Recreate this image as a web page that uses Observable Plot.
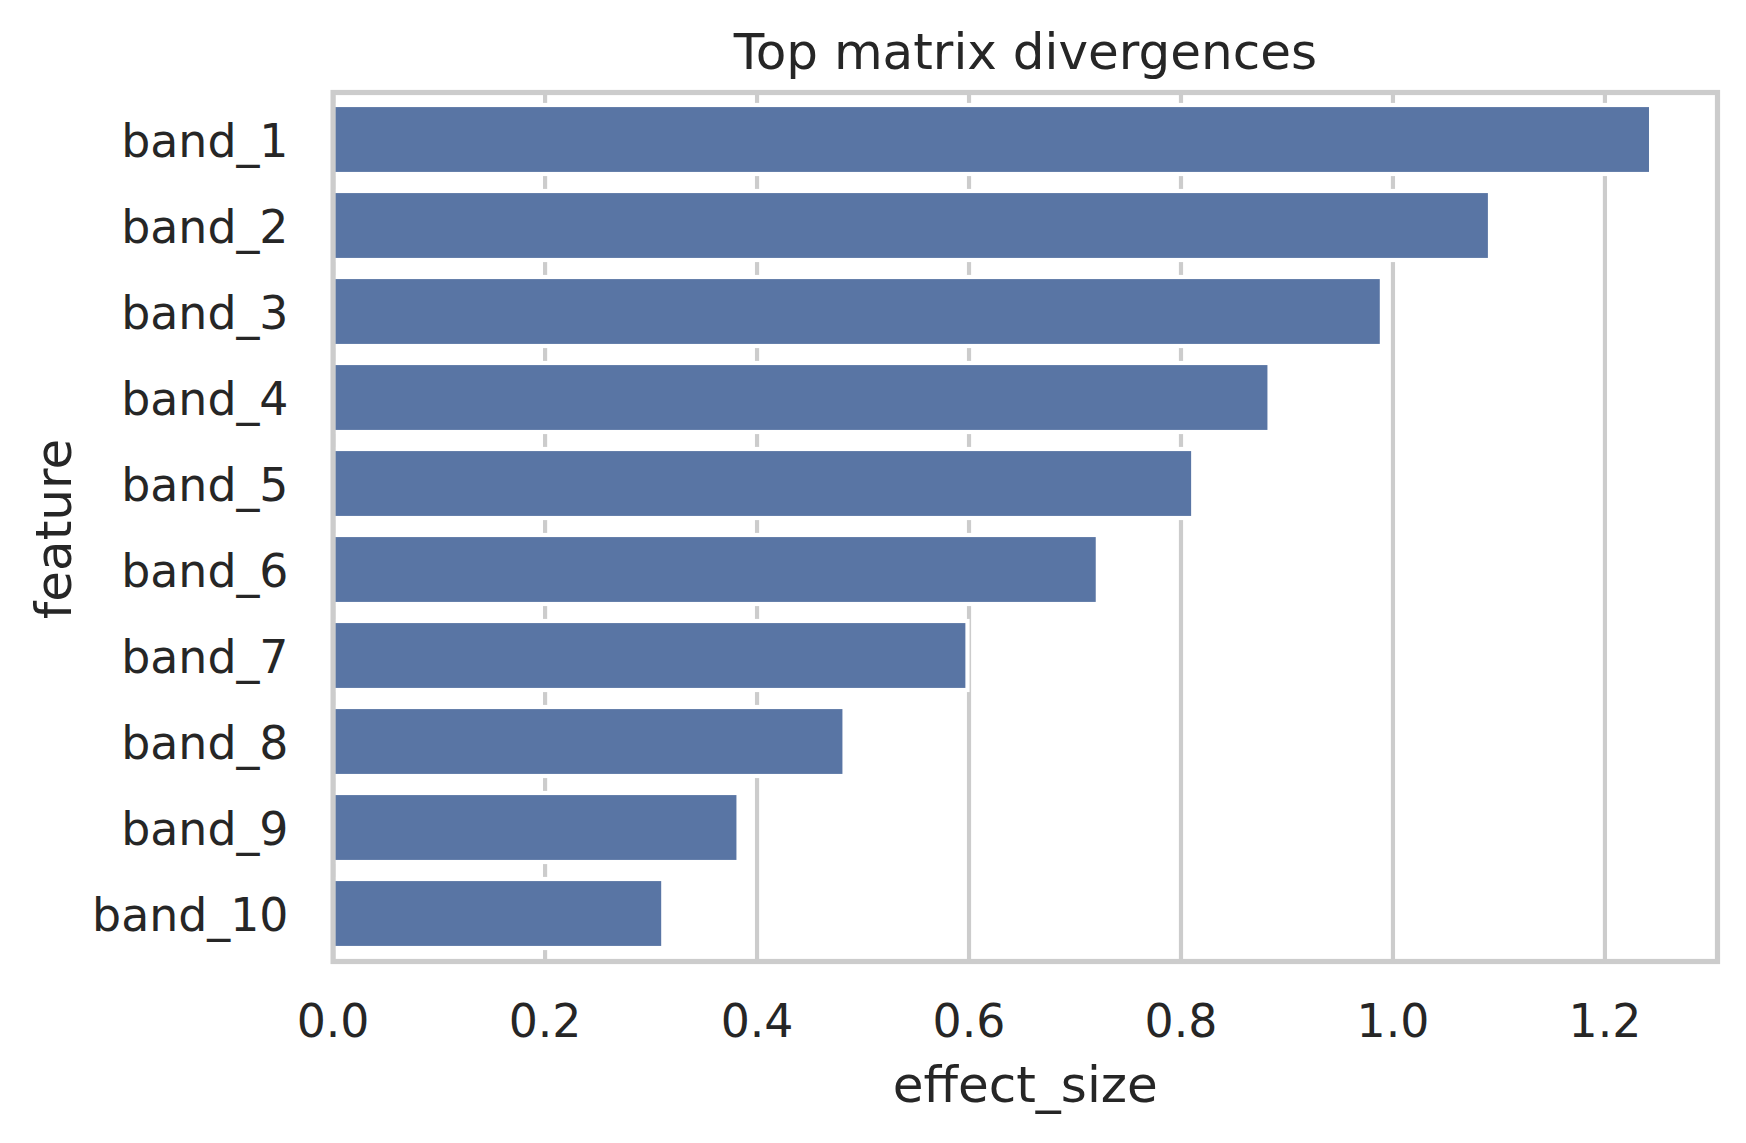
<!DOCTYPE html>
<html>
<head>
<meta charset="utf-8">
<script src="https://cdn.jsdelivr.net/npm/d3@7"></script>
<script src="https://cdn.jsdelivr.net/npm/@observablehq/plot@0.6"></script>
<style>
  html, body { margin: 0; padding: 0; background: white; }
  #chart svg { display: block; }
</style>
</head>
<body>
<div id="chart"></div>
<script>
// ---- data ----
const features = ["band_1", "band_2", "band_3", "band_4", "band_5", "band_6", "band_7", "band_8", "band_9", "band_10"];
const effectSizes = [1.244, 1.092, 0.990, 0.884, 0.812, 0.722, 0.599, 0.483, 0.383, 0.312];
const xTicks = [0.0, 0.2, 0.4, 0.6, 0.8, 1.0, 1.2];
const titleText = ["Top matrix divergences"];
const xLabel = ["effect_size"];
const yLabel = ["feature"];

const rows = features.map((f, i) => ({feature: f, effect_size: effectSizes[i]}));
const xMax = d3.max(effectSizes) * 1.05;

const W = 1746, H = 1143;
const mL = 332.6, mR = 29, mT = 92, mB = 182;
const textColor = "#262626";
const gridColor = "#cccccc";

const chart = Plot.plot({
  width: W,
  height: H,
  marginLeft: mL,
  marginRight: mR,
  marginTop: mT,
  marginBottom: mB,
  style: {fontFamily: "DejaVu Sans", color: textColor, background: "white"},
  x: {domain: [0, xMax], ticks: xTicks},
  y: {domain: features, paddingInner: 0.2, paddingOuter: 0.1},
  marks: [
    Plot.gridX(xTicks, {stroke: gridColor, strokeOpacity: 1, strokeWidth: 4.17}),
    Plot.barX(rows, {x: "effect_size", y: "feature", fill: "#5975a4", stroke: "white", strokeWidth: 4.17}),
    Plot.frame({stroke: gridColor, strokeWidth: 5.2}),
    Plot.axisX(xTicks, {tickSize: 0, tickPadding: 43, fontSize: 45.8, label: null, tickFormat: d => d.toFixed(1)}),
    Plot.axisY({tickSize: 0, tickPadding: 44.6, fontSize: 45.8, label: null, dy: 2}),
    Plot.text(titleText, {frameAnchor: "top", dy: -24, lineAnchor: "bottom", fontSize: 50, fill: textColor}),
    Plot.text(xLabel, {frameAnchor: "bottom", dy: 140.7, lineAnchor: "bottom", fontSize: 50, fill: textColor}),
    Plot.text(yLabel, {frameAnchor: "left", textAnchor: "middle", dx: -262.6, dy: 2, rotate: -90, lineAnchor: "bottom", fontSize: 50, fill: textColor})
  ]
});
document.getElementById("chart").appendChild(chart);
</script>
</body>
</html>
